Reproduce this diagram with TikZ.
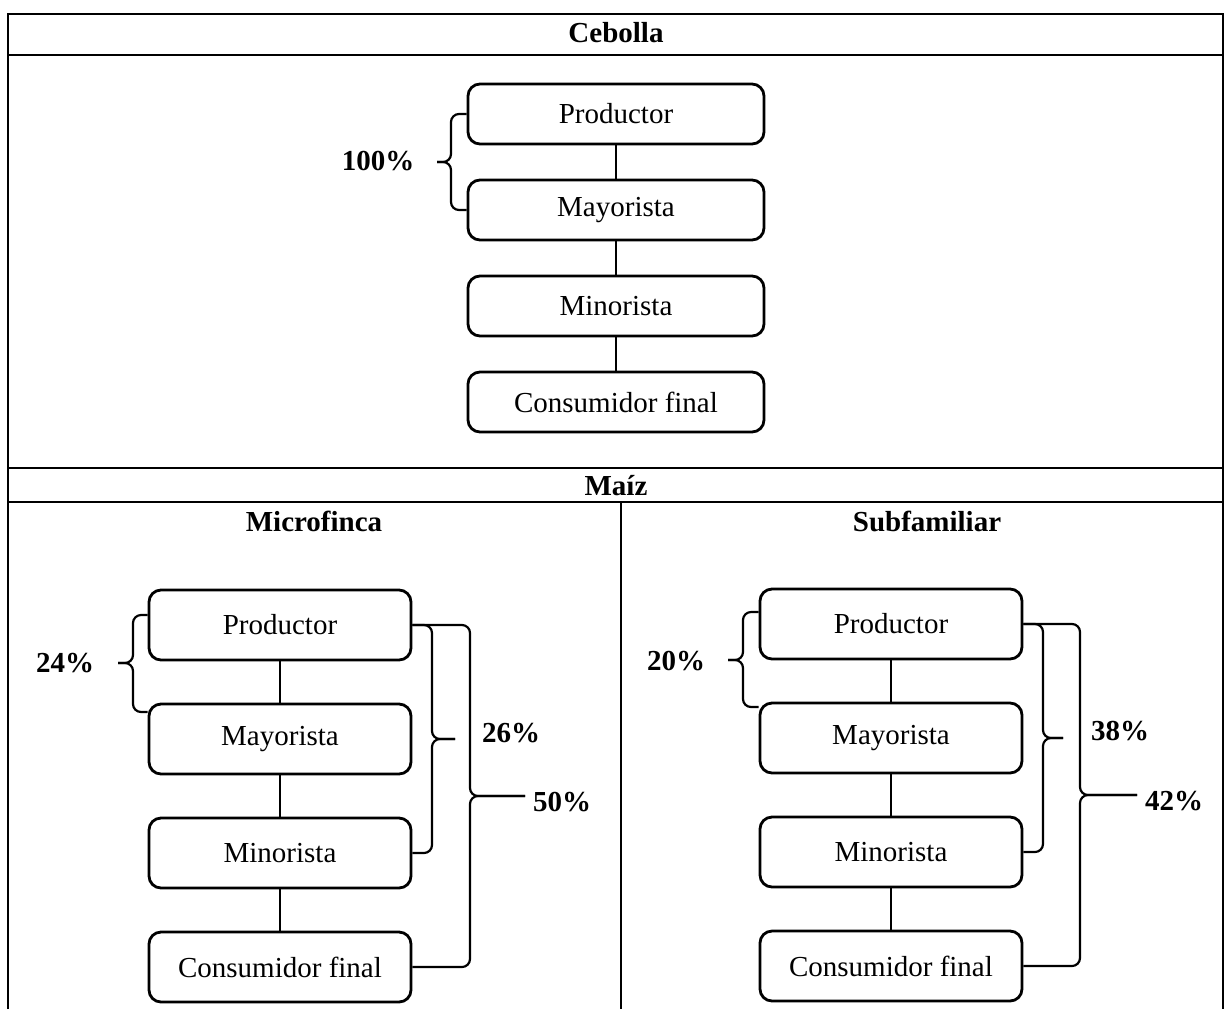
\documentclass[tikz,border=0pt]{standalone}
\usepackage{fontspec}
\setmainfont{Liberation Serif}
\usetikzlibrary{
	positioning		% relative placement
	, calc			% coordinate shifts
}

\begin{document}
\begin{tikzpicture}[
			x=0.5pt, y=-0.5pt,
			font=\fontsize{14.5}{17}\selectfont,
			stage/.style={
				rectangle,
				rounded corners=6pt,
				draw=black, line width=1.4pt,
				minimum width=131pt,
				minimum height=35pt,
				inner sep=0pt,
				text centered
			},
			widestage/.style={
				stage,
				minimum width=148pt,
				minimum height=30pt
			},
			link/.style={
				-,
				line width=0.8pt
			},
			bracket/.style={
				line width=1.1pt,
				rounded corners=4pt
			},
			grid/.style={
				line width=0.9pt
			},
			heading/.style={
				font=\fontsize{14.5}{17}\selectfont\bfseries
			},
			pct/.style={
				font=\fontsize{14.5}{17}\selectfont\bfseries
			}]

			\useasboundingbox (0,0) rectangle (1225,1009);

			%%% Table frame
			\draw [grid] (8,1009) -- (8,14) -- (1223,14) -- (1223,1009);
			\draw [grid] (8,55) -- (1223,55);
			\draw [grid] (8,468) -- (1223,468);
			\draw [grid] (8,502) -- (1223,502);
			\draw [grid] (621,502) -- (621,1009);

			\node [heading] (cebolla) at (616,33) {Cebolla};
			\node [heading] (maiz) at (616,486) {Maíz};
			\node [heading] (micro) at (314,521) {Microfinca};
			\node [heading] (sub) at (927,521) {Subfamiliar};

			%%% The chains, one box per stage
			\foreach [count=\i] \role in {Productor, Mayorista, Minorista, Consumidor final} {
				% Cebolla, then the two Maiz columns
				\node [widestage] (c\i) at (616, {114+96*(\i-1)}) {\role};
				\node [stage] (m\i) at (280, {625+114*(\i-1)}) {\role};
				\node [stage] (s\i) at (891, {624+114*(\i-1)}) {\role};
			};

			\foreach \i/\j in {1/2, 2/3, 3/4} {
				\draw [link] (c\i) -- (c\j);
				\draw [link] (m\i) -- (m\j);
				\draw [link] (s\i) -- (s\j);
			};

			%%% Braces and shares
			\coordinate (tip100) at (437,162);
			\draw [bracket] (c1.west) -| ([xshift=7pt]tip100) -- (tip100);
			\draw [bracket] (c2.west) -| ([xshift=7pt]tip100) -- (tip100);
			\node [pct] (p100) at (378,161) {100\%};

			\coordinate (tip24) at (118,663);
			\draw [bracket] ([yshift=5pt]m1.west) -| ([xshift=7.5pt]tip24) -- (tip24);
			\draw [bracket] ([yshift=13.5pt]m2.west) -| ([xshift=7.5pt]tip24) -- (tip24);
			\node [pct] (p24) at (65,663) {24\%};

			\coordinate (tip26) at (455,739);
			\draw [bracket] (m1.east) -| ([xshift=-11.5pt]tip26) -- (tip26);
			\draw [bracket] (m3.east) -| ([xshift=-11.5pt]tip26) -- (tip26);
			\node [pct] (p26) at (511,733) {26\%};

			\coordinate (tip50) at (525,796);
			\draw [bracket] (m1.east) -| ([xshift=-27.5pt]tip50) -- (tip50);
			\draw [bracket] (m4.east) -| ([xshift=-27.5pt]tip50) -- (tip50);
			\node [pct] (p50) at (562,802) {50\%};

			\coordinate (tip20) at (728,660);
			\draw [bracket] ([yshift=6pt]s1.west) -| ([xshift=7.5pt]tip20) -- (tip20);
			\draw [bracket] ([yshift=15.5pt]s2.west) -| ([xshift=7.5pt]tip20) -- (tip20);
			\node [pct] (p20) at (676,661) {20\%};

			\coordinate (tip38) at (1063,738);
			\draw [bracket] (s1.east) -| ([xshift=-10pt]tip38) -- (tip38);
			\draw [bracket] (s3.east) -| ([xshift=-10pt]tip38) -- (tip38);
			\node [pct] (p38) at (1120,731) {38\%};

			\coordinate (tip42) at (1137,795);
			\draw [bracket] (s1.east) -| ([xshift=-28.5pt]tip42) -- (tip42);
			\draw [bracket] (s4.east) -| ([xshift=-28.5pt]tip42) -- (tip42);
			\node [pct] (p42) at (1174,801) {42\%};

		\end{tikzpicture}
\end{document}
